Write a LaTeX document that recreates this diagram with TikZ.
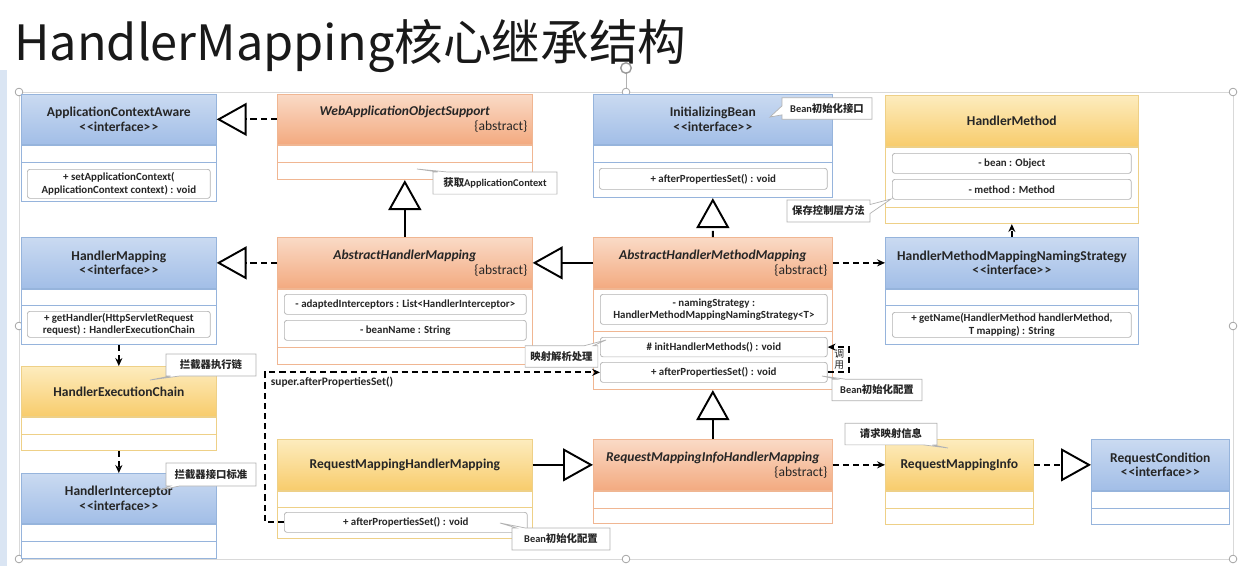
\documentclass[tikz,border=0pt]{standalone}
\usepackage{fontspec}
\setmainfont{Carlito}
\newfontfamily\cjk{Noto Sans CJK SC}
\newcommand{\zh}[1]{{\cjk #1}}
\usetikzlibrary{positioning,arrows.meta,shapes.callouts}
\definecolor{ifline}{RGB}{150,180,220}
\definecolor{iftop}{RGB}{202,218,241}
\definecolor{ifbot}{RGB}{162,190,231}
\definecolor{abline}{RGB}{240,182,146}
\definecolor{abtop}{RGB}{250,218,198}
\definecolor{abbot}{RGB}{243,170,128}
\definecolor{coline}{RGB}{238,208,135}
\definecolor{cotop}{RGB}{253,236,190}
\definecolor{cobot}{RGB}{248,204,108}
\tikzset{
  hdr/.style={rectangle, anchor=north west, inner sep=0pt, minimum height=1cm, align=center,
    text=black!85, font=\fontsize{7.7}{8.4}\selectfont\bfseries},
  iface/.style={hdr, draw=ifline, top color=iftop, bottom color=ifbot},
  absc/.style={hdr, draw=abline, top color=abtop, bottom color=abbot, inner xsep=0.1cm},
  conc/.style={hdr, draw=coline, top color=cotop, bottom color=cobot},
  part/.style={rectangle, fill=white, inner sep=0pt, minimum height=#1},
  memb/.style={rectangle, anchor=north west, rounded corners=1.5pt, draw=black!30, fill=white,
    inner sep=0pt, align=center, text=black!85, font=\fontsize{6.2}{6.9}\selectfont\bfseries},
  note/.style={rectangle callout, draw=black!30, fill=white, inner xsep=3pt, minimum height=0.4cm,
    callout pointer width=0.18cm, text=black!85, font=\fontsize{5.9}{6.6}\selectfont\bfseries},
  gen/.style={draw, line width=1.1pt, -{Triangle[open,length=0.6cm,width=0.66cm]}},
  real/.style={gen, dash pattern=on 3.5pt off 2.3pt},
  dep/.style={draw, line width=1.1pt, dash pattern=on 3.5pt off 2.3pt, -{Stealth[length=4.5pt,width=4pt]}},
}
\begin{document}
\begin{tikzpicture}[x=0.02cm,y=-0.02cm]
\useasboundingbox (0,0) rectangle (1244,566);
\fill[ifline!35] (0,70) rectangle (7,566);

% title
\node[anchor=base west, inner sep=0pt, text=black!90, font=\cjk\fontsize{27.7}{30}\selectfont] (title) at (14,60) {HandlerMapping核心继承结构};

% selection frame
\draw[black!15] (19,92) rectangle (1233,559);
\draw[black!30] (626,92) -- (626,72);
\draw[black!40, line width=0.8pt] (626,68) circle (3pt);
\foreach \p in {(19,92),(626,92),(1233,92),(19,326),(1233,326),(19,559),(626,559),(1233,559)}
  \draw[black!40, fill=white] \p circle (2.2pt);

% column 1
\node[iface, minimum width=3.9cm] (aca) at (21,94) {ApplicationContextAware\\<\kern0.6pt<interface>\kern0.6pt>};
\node[part=0.34cm, draw=ifline, minimum width=3.9cm, below=0pt of aca] (aca-1) {};
\node[part=0.78cm, draw=ifline, minimum width=3.9cm, below=0pt of aca-1] (aca-2) {};
\node[memb, minimum width=3.66cm, minimum height=0.58cm] (aca-set) at (27,169) {+ setApplicationContext(\\ApplicationContext context) : void};

\node[iface, minimum width=3.9cm, minimum height=1.02cm] (hm) at (21,237) {HandlerMapping\\<\kern0.6pt<interface>\kern0.6pt>};
\node[part=0.32cm, draw=ifline, minimum width=3.9cm, below=0pt of hm] (hm-1) {};
\node[part=0.78cm, draw=ifline, minimum width=3.9cm, below=0pt of hm-1] (hm-2) {};
\node[memb, minimum width=3.66cm, minimum height=0.52cm] (hm-get) at (27,311) {+ getHandler(HttpServletRequest\\request) : HandlerExecutionChain};

\node[conc, minimum width=3.9cm] (hec) at (21,366) {HandlerExecutionChain};
\node[part=0.34cm, draw=coline, minimum width=3.9cm, below=0pt of hec] (hec-1) {};
\node[part=0.32cm, draw=coline, minimum width=3.9cm, below=0pt of hec-1] (hec-2) {};

\node[iface, minimum width=3.9cm] (hi) at (21,473) {HandlerInterceptor\\<\kern0.6pt<interface>\kern0.6pt>};
\node[part=0.34cm, draw=ifline, minimum width=3.9cm, below=0pt of hi] (hi-1) {};
\node[part=0.34cm, draw=ifline, minimum width=3.9cm, below=0pt of hi-1] (hi-2) {};

% column 2
\node[absc, text width=4.9cm] (wos) at (277,94) {\textit{WebApplicationObjectSupport}\\\hspace*{\fill}{\mdseries\{abstract\}}};
\node[part=0.34cm, draw=abline, minimum width=5.1cm, below=0pt of wos] (wos-1) {};
\node[part=0.34cm, draw=abline, minimum width=5.1cm, below=0pt of wos-1] (wos-2) {};

\node[absc, text width=4.9cm, minimum height=1.02cm] (ahm) at (277,237) {\textit{AbstractHandlerMapping}\\\hspace*{\fill}{\mdseries\{abstract\}}};
\node[part=1.16cm, draw=abline, minimum width=5.1cm, below=0pt of ahm] (ahm-1) {};
\node[part=0.34cm, draw=abline, minimum width=5.1cm, below=0pt of ahm-1] (ahm-2) {};
\node[memb, minimum width=4.84cm, minimum height=0.4cm] (ahm-ic) at (284,294) {- adaptedInterceptors : List<HandlerInterceptor>};
\node[memb, minimum width=4.84cm, minimum height=0.4cm] (ahm-bn) at (284,320) {- beanName : String};

\node[conc, minimum width=5.1cm, minimum height=1.02cm] (rmhm) at (277,439) {RequestMappingHandlerMapping};
\node[part=0.32cm, draw=coline, minimum width=5.1cm, below=0pt of rmhm] (rmhm-1) {};
\node[part=0.62cm, draw=coline, minimum width=5.1cm, below=0pt of rmhm-1] (rmhm-2) {};
\node[memb, minimum width=4.86cm, minimum height=0.4cm] (rmhm-aps) at (284,512) {+ afterPropertiesSet() : void};

% column 3
\node[iface, minimum width=4.78cm] (ib) at (593,94) {InitializingBean\\<\kern0.6pt<interface>\kern0.6pt>};
\node[part=0.34cm, draw=ifline, minimum width=4.78cm, below=0pt of ib] (ib-1) {};
\node[part=0.7cm, draw=ifline, minimum width=4.78cm, below=0pt of ib-1] (ib-2) {};
\node[memb, minimum width=4.56cm, minimum height=0.42cm] (ib-aps) at (599,168) {+ afterPropertiesSet() : void};

\node[absc, text width=4.58cm, minimum height=1.02cm] (ahmm) at (593,237) {\textit{AbstractHandlerMethodMapping}\\\hspace*{\fill}{\mdseries\{abstract\}}};
\node[part=0.84cm, draw=abline, minimum width=4.78cm, below=0pt of ahmm] (ahmm-1) {};
\node[part=1.16cm, draw=abline, minimum width=4.78cm, below=0pt of ahmm-1] (ahmm-2) {};
\node[memb, minimum width=4.54cm, minimum height=0.6cm] (ahmm-ns) at (600,294) {- namingStrategy :\\HandlerMethodMappingNamingStrategy<T>};
\node[memb, minimum width=4.54cm, minimum height=0.39cm] (ahmm-init) at (600,337) {\# initHandlerMethods() : void};
\node[memb, minimum width=4.54cm, minimum height=0.4cm] (ahmm-aps) at (600,362) {+ afterPropertiesSet() : void};

\node[absc, text width=4.58cm, minimum height=1.02cm] (rmihm) at (593,439) {\textit{RequestMappingInfoHandlerMapping}\\\hspace*{\fill}{\mdseries\{abstract\}}};
\node[part=0.34cm, draw=abline, minimum width=4.78cm, below=0pt of rmihm] (rmihm-1) {};
\node[part=0.3cm, draw=abline, minimum width=4.78cm, below=0pt of rmihm-1] (rmihm-2) {};

% column 4
\node[conc, minimum width=5.06cm, minimum height=1.02cm] (hme) at (885,95) {HandlerMethod};
\node[part=1.2cm, draw=coline, minimum width=5.06cm, below=0pt of hme] (hme-1) {};
\node[part=0.32cm, draw=coline, minimum width=5.06cm, below=0pt of hme-1] (hme-2) {};
\node[memb, minimum width=4.78cm, minimum height=0.4cm] (hme-bean) at (892,153) {- bean : Object};
\node[memb, minimum width=4.78cm, minimum height=0.4cm] (hme-meth) at (892,179) {- method : Method};

\node[iface, minimum width=5.06cm, minimum height=1.02cm] (hmmns) at (885,237) {HandlerMethodMappingNamingStrategy\\<\kern0.6pt<interface>\kern0.6pt>};
\node[part=0.32cm, draw=ifline, minimum width=5.06cm, below=0pt of hmmns] (hmmns-1) {};
\node[part=0.78cm, draw=ifline, minimum width=5.06cm, below=0pt of hmmns-1] (hmmns-2) {};
\node[memb, minimum width=4.78cm, minimum height=0.5cm] (hmmns-get) at (892,312) {+ getName(HandlerMethod handlerMethod,\\T mapping) : String};

\node[conc, minimum width=2.96cm, minimum height=1.02cm] (rmi) at (885,439) {RequestMappingInfo};
\node[part=0.34cm, draw=coline, minimum width=2.96cm, below=0pt of rmi] (rmi-1) {};
\node[part=0.32cm, draw=coline, minimum width=2.96cm, below=0pt of rmi-1] (rmi-2) {};

\node[iface, minimum width=2.76cm, minimum height=1.02cm] (rc) at (1091,439) {RequestCondition\\<\kern0.6pt<interface>\kern0.6pt>};
\node[part=0.34cm, draw=ifline, minimum width=2.76cm, below=0pt of rc] (rc-1) {};
\node[part=0.32cm, draw=ifline, minimum width=2.76cm, below=0pt of rc-1] (rc-2) {};

% connectors
\draw[real] (wos.west) -- (aca.east);
\draw[real] (ahm.west) -- (hm.east);
\draw[gen] (ahmm.west) -- (ahm.east);
\draw[gen] (ahm.north) -- (wos-2.south);
\draw[real] (ahmm.north) -- (ib-2.south);
\draw[gen] (rmihm.north) -- (ahmm-2.south);
\draw[gen] (rmhm.east) -- (rmihm.west);
\draw[real] (rmi.east) -- (rc.west);
\draw[dep] (rmihm.east) -- (rmi.west);
\draw[dep] (ahmm.east) -- (hmmns.west);
\draw[dep] (hmmns.north) -- (hme-2.south);
\draw[dep] (hm-2.south) -- (hec.north);
\draw[dep] (hec-2.south) -- (hi.north);
\draw[dep] (rmhm-aps.west) -- ++(-19,0) |- node[pos=0.6, below, inner sep=2pt, text=black!85, font=\fontsize{6.5}{7}\selectfont\bfseries] {super.afterPropertiesSet()} (ahmm-aps.west);
\draw[dep] (ahmm-aps.east) -- ++(21,0) |- node[pos=0.25, left, inner sep=2pt, align=center, text=black!85, font=\cjk\fontsize{5.6}{6.2}\selectfont] {调\\用} (ahmm-init.east);

% notes
\node[note, minimum width=2.48cm, callout absolute pointer={(417,169)}] (n-ctx) at (495,183) {\zh{获取}ApplicationContext};
\node[note, minimum width=1.8cm, callout absolute pointer={(770,117)}] (n-ib) at (827,108.5) {Bean\zh{初始化接口}};
\node[note, minimum width=1.66cm, minimum height=0.44cm, callout absolute pointer={(891,199)}] (n-hme) at (828.5,211) {\zh{保存控制层方法}};
\node[note, minimum width=1.8cm, minimum height=0.44cm, callout absolute pointer={(150,380)}] (n-hec) at (211,365) {\zh{拦截器执行链}};
\node[note, minimum width=1.8cm, minimum height=0.46cm, callout absolute pointer={(160,490)}] (n-hi) at (211,474.5) {\zh{拦截器接口标准}};
\node[note, minimum width=1.42cm, minimum height=0.34cm, callout absolute pointer={(606,340)}] (n-init) at (561.5,356.5) {\zh{映射解析处理}};
\node[note, minimum width=1.8cm, callout absolute pointer={(822,376)}] (n-aps) at (877,390) {Bean\zh{初始化配置}};
\node[note, minimum width=1.96cm, minimum height=0.44cm, callout absolute pointer={(500,523)}] (n-rmhm) at (561,539) {Bean\zh{初始化配置}};
\node[note, minimum width=1.84cm, minimum height=0.36cm, callout absolute pointer={(948,448)}] (n-rmi) at (891,434) {\zh{请求映射信息}};
\end{tikzpicture}
\end{document}
